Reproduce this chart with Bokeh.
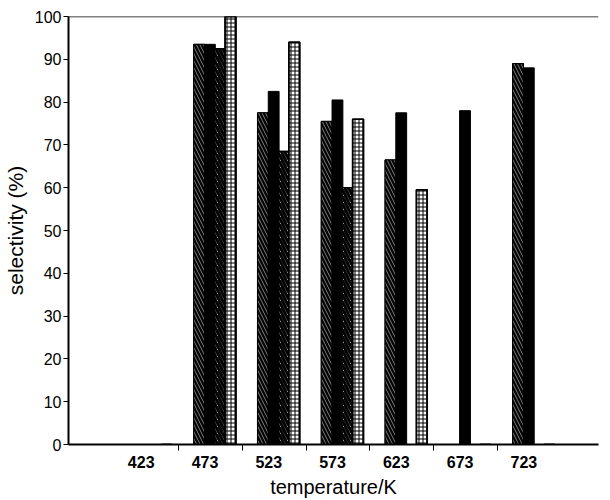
from bokeh.plotting import figure
from bokeh.models import FixedTicker, Span, ColumnDataSource
from bokeh.transform import dodge
from bokeh.embed import file_html
from bokeh.resources import INLINE

categories = ["423", "473", "523", "573", "623", "673", "723"]
series1 = [0, 93.5, 77.5, 75.5, 66.5, 0, 89]
series2 = [0, 93.5, 82.5, 80.5, 77.5, 78, 88]
series3 = [0, 92.5, 68.5, 60, 0, 0, 0]
series4 = [0, 100, 94, 76, 59.5, 0, 0]
y_ticks = [0, 10, 20, 30, 40, 50, 60, 70, 80, 90, 100]

xs = list(range(len(categories)))
src = ColumnDataSource(dict(x=xs, s1=series1, s2=series2, s3=series3, s4=series4))

p = figure(width=602, height=500, x_range=(-1.14, 7.17), y_range=(0, 100),
           output_backend="svg", toolbar_location=None,
           min_border_left=62, min_border_right=4, min_border_top=16, min_border_bottom=46)
p.outline_line_color = None
p.xgrid.visible = False
p.ygrid.visible = False
p.background_fill_color = "white"
p.border_fill_color = "white"

W = 0.17
# series 1: black with fine white hatching
p.vbar(x=dodge("x", -0.092, range=p.x_range), top="s1", width=W, source=src,
       fill_color="black", line_color="black", line_width=1)
p.vbar(x=dodge("x", -0.092, range=p.x_range), top="s1", width=W, source=src,
       fill_alpha=0, line_color="black", line_width=1,
       hatch_pattern="left_diagonal_line", hatch_color="white", hatch_weight=0.5, hatch_scale=7)
# series 2: solid black
p.vbar(x=dodge("x", 0.077, range=p.x_range), top="s2", width=W, source=src,
       fill_color="black", line_color="black", line_width=1)
# series 3: white with thick black hatching
p.vbar(x=dodge("x", 0.231, range=p.x_range), top="s3", width=W, source=src,
       fill_color="white", line_color="black", line_width=1.2)
p.vbar(x=dodge("x", 0.231, range=p.x_range), top="s3", width=W, source=src,
       fill_alpha=0, line_color="black", line_width=1.2,
       hatch_pattern="left_diagonal_line", hatch_color="black", hatch_weight=3, hatch_scale=7)
# series 4: white grid
p.vbar(x=dodge("x", 0.4, range=p.x_range), top="s4", width=W, source=src,
       fill_color="white", line_color="black", line_width=1.5)
p.vbar(x=dodge("x", 0.4, range=p.x_range), top="s4", width=W, source=src,
       fill_alpha=0, line_color="black", line_width=1.5,
       hatch_pattern="cross", hatch_color="black", hatch_weight=1, hatch_scale=4)

p.add_layout(Span(location=100, dimension="width", line_color="black", line_width=1.5))

font = "Liberation Sans"
xa = p.xaxis[0]
xa.ticker = FixedTicker(ticks=xs, minor_ticks=[i + 0.585 for i in range(6)])
xa.major_label_overrides = {i: c for i, c in zip(xs, categories)}
xa.major_tick_line_color = None
xa.minor_tick_line_color = "black"
xa.minor_tick_out = 6
xa.minor_tick_in = 0
xa.axis_line_width = 2
xa.axis_line_color = "black"
xa.major_label_text_font = font
xa.major_label_text_font_size = "16px"
xa.major_label_text_font_style = "bold"
xa.major_label_text_color = "black"
xa.major_label_standoff = 5
xa.axis_label = "temperature/K"
xa.axis_label_text_font = font
xa.axis_label_text_font_size = "20px"
xa.axis_label_text_font_style = "normal"
xa.axis_label_text_color = "black"
xa.axis_label_standoff = 5

ya = p.yaxis[0]
ya.ticker = FixedTicker(ticks=y_ticks)
ya.major_tick_out = 5
ya.major_tick_in = 0
ya.minor_tick_line_color = None
ya.axis_line_width = 2
ya.axis_line_color = "black"
ya.major_label_text_font = font
ya.major_label_text_font_size = "16px"
ya.major_label_text_color = "black"
ya.major_label_standoff = 2
ya.axis_label = "selectivity (%)"
ya.axis_label_text_font = font
ya.axis_label_text_font_size = "21px"
ya.axis_label_text_font_style = "normal"
ya.axis_label_text_color = "black"
ya.axis_label_standoff = 5

open("out.html", "w").write(file_html(p, INLINE))
